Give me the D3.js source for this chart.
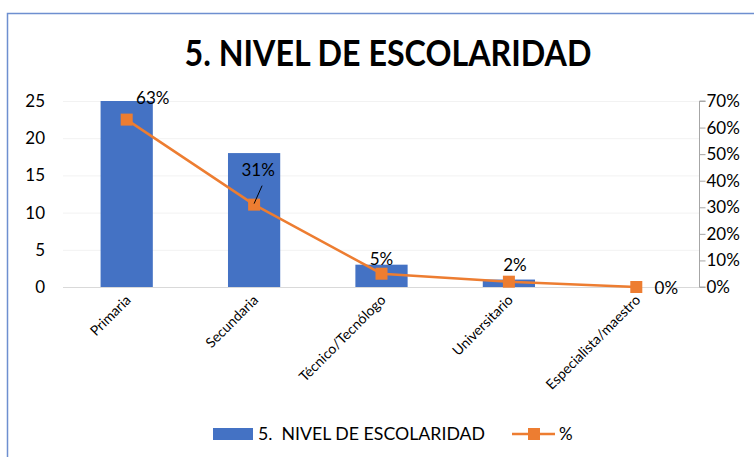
<html>
<head><meta charset="utf-8"></head>
<script src="https://d3js.org/d3.v7.min.js"></script>
<style>
body { margin: 0; background: #fff; }
text { font-family: Lato, "Open Sans", sans-serif; fill: #000; }
</style>
<body>
<svg width="754" height="457"></svg>
<script>
var categories = ["Primaria", "Secundaria", "Técnico/Tecnólogo", "Universitario", "Especialista/maestro"];
var counts = [25, 18, 3, 1, 0];
var percents = [0.63, 0.31, 0.05, 0.02, 0];
var leftTicks = [0, 5, 10, 15, 20, 25];
var rightTicks = [0, 0.1, 0.2, 0.3, 0.4, 0.5, 0.6, 0.7];

var svg = d3.select("svg");
var plotLeft = 63, plotRight = 700, plotTop = 101, plotBottom = 287;

// frame
svg.append("rect").attr("x", 7.5).attr("y", 13.5).attr("width", 800).attr("height", 500)
  .attr("fill", "none").attr("stroke", "#6e8fd0").attr("stroke-width", 1.5);

svg.append("text").attr("x", 388).attr("y", 66).attr("text-anchor", "middle")
  .attr("textLength", 407).attr("lengthAdjust", "spacingAndGlyphs")
  .style("font-size", "36px").style("font-weight", "bold")
  .text("5. NIVEL DE ESCOLARIDAD");

var xs = d3.scaleBand().domain(categories).range([plotLeft, plotRight]).paddingInner(0.59).paddingOuter(0.295);
var ys = d3.scaleLinear().domain([0, 25]).range([plotBottom, plotTop]);
var ps = d3.scaleLinear().domain([0, 0.7]).range([plotBottom, plotTop]);

// gridlines
svg.append("g").selectAll("line").data(leftTicks).enter().append("line")
  .attr("x1", plotLeft).attr("x2", plotRight)
  .attr("y1", function(d) { return ys(d) + 0.5; }).attr("y2", function(d) { return ys(d) + 0.5; })
  .attr("stroke", function(d) { return d == 0 ? "#d9d9d9" : "#f2f2f2"; });

// left axis labels
svg.append("g").selectAll("text").data(leftTicks).enter().append("text")
  .attr("x", 45).attr("y", function(d) { return ys(d); }).attr("dy", "0.35em")
  .attr("text-anchor", "end").style("font-size", "17px")
  .text(function(d) { return d; });

// right axis
var ra = svg.append("g").attr("transform", "translate(" + (plotRight - 0.5) + ",0)")
  .call(d3.axisRight(ps).tickValues(rightTicks).tickSize(6).tickPadding(1).tickFormat(d3.format(".0%")));
ra.select(".domain").attr("stroke", "#a6a6a6").attr("d", "M6," + ps(0.7) + "H0V" + ps(0) + "H6");
ra.selectAll(".tick line").attr("stroke", "#a6a6a6");
ra.selectAll(".tick text").style("font-size", "17px").style("font-family", "Lato, sans-serif").attr("fill", "#000");

// bars
svg.append("g").selectAll("rect").data(counts).enter().append("rect")
  .attr("x", function(d, i) { return xs(categories[i]); })
  .attr("width", xs.bandwidth())
  .attr("y", function(d) { return ys(d); })
  .attr("height", function(d) { return ys(0) - ys(d); })
  .attr("fill", "#4472c4");

// category labels
svg.append("g").selectAll("text").data(categories).enter().append("text")
  .attr("transform", function(d) { return "translate(" + (xs(d) + xs.bandwidth() / 2 + 5) + "," + 301 + ") rotate(-45)"; })
  .attr("text-anchor", "end").style("font-size", "14px")
  .text(function(d) { return d; });

// line
var cx = function(i) { return xs(categories[i]) + xs.bandwidth() / 2; };
var line = d3.line().x(function(d, i) { return cx(i); }).y(function(d) { return ps(d); });
svg.append("path").datum(percents).attr("d", line)
  .attr("fill", "none").attr("stroke", "#ed7d31").attr("stroke-width", 2.5);
svg.append("g").selectAll("rect").data(percents).enter().append("rect")
  .attr("x", function(d, i) { return cx(i) - 6; }).attr("y", function(d) { return ps(d) - 6; })
  .attr("width", 12).attr("height", 12).attr("fill", "#ed7d31");

// data labels
var lblDx = [26, 4, 0, 6, 30];
var lblDy = [-22, -35, -15, -17, 1];
svg.append("g").selectAll("text").data(percents).enter().append("text")
  .attr("x", function(d, i) { return cx(i) + lblDx[i]; })
  .attr("y", function(d, i) { return ps(d) + lblDy[i]; })
  .attr("dy", "0.35em").attr("text-anchor", "middle").style("font-size", "17px")
  .text(function(d) { return d3.format(".0%")(d); });
// leader line for 31%
svg.append("line").attr("x1", cx(1) + 8).attr("y1", ps(percents[1]) - 19)
  .attr("x2", cx(1)).attr("y2", ps(percents[1]) - 1)
  .attr("stroke", "#000").attr("stroke-width", 1);

// legend
svg.append("rect").attr("x", 213).attr("y", 428).attr("width", 40).attr("height", 12).attr("fill", "#4472c4");
svg.append("text").attr("x", 258).attr("y", 434).attr("dy", "0.35em").style("font-size", "17px")
  .attr("textLength", 227).attr("lengthAdjust", "spacingAndGlyphs")
  .attr("xml:space", "preserve").text("5.  NIVEL DE ESCOLARIDAD");
svg.append("line").attr("x1", 512).attr("x2", 555).attr("y1", 434).attr("y2", 434)
  .attr("stroke", "#ed7d31").attr("stroke-width", 2.5);
svg.append("rect").attr("x", 528).attr("y", 428).attr("width", 12).attr("height", 12).attr("fill", "#ed7d31");
svg.append("text").attr("x", 559).attr("y", 434).attr("dy", "0.35em").style("font-size", "17px").text("%");
</script>
</body>
</html>
